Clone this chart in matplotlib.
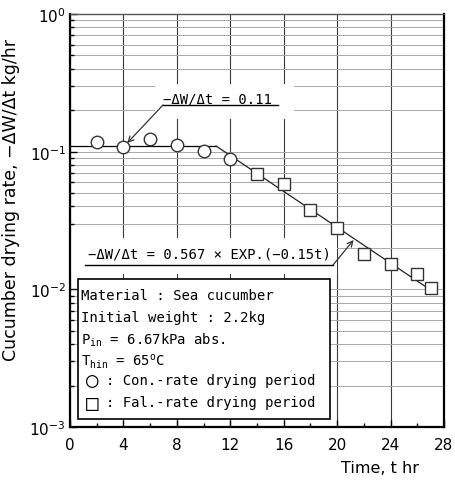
import numpy as np
import matplotlib.pyplot as plt
from matplotlib.patches import Rectangle
from matplotlib.ticker import LogLocator, MultipleLocator, NullFormatter

# Drying data (time in hr, rate in kg/hr)
t_con = [2, 4, 6, 8, 10, 12]
rate_con = [0.117, 0.108, 0.124, 0.112, 0.101, 0.0885]
t_fal = [14, 16, 18, 20, 22, 24, 26, 27]
rate_fal = [0.0689, 0.058, 0.0377, 0.0279, 0.0181, 0.0153, 0.0129, 0.0102]

# Fitted model
rate_const = 0.11
coef_a = 0.567
coef_b = -0.15
t_end = 27

mono = ['DejaVu Sans Mono', 'DejaVu Sans']

fig = plt.figure(figsize=(4.56, 4.81), dpi=100)
ax = fig.add_axes([70 / 456, 1 - 428 / 481, 374 / 456, 413 / 481])

# constant-rate then falling-rate line
t_knee = np.log(rate_const / coef_a) / coef_b
ax.plot([0, t_knee], [rate_const, rate_const], color='black', lw=0.9, zorder=4)
tt = np.linspace(t_knee, t_end, 100)
ax.plot(tt, coef_a * np.exp(coef_b * tt), color='#222222', lw=0.9, zorder=4)

ax.plot(t_con, rate_con, 'o', ms=9, mfc='white', mec='#333333', mew=1.0, zorder=5)
ax.plot(t_fal, rate_fal, 's', ms=8.5, mfc='white', mec='#333333', mew=1.0, zorder=5)

ax.set_yscale('log')
ax.set_xlim(0, 28)
ax.set_ylim(1e-3, 1)
ax.xaxis.set_major_locator(MultipleLocator(4))
ax.xaxis.set_minor_locator(MultipleLocator(2))
ax.yaxis.set_major_locator(LogLocator(base=10))
ax.yaxis.set_minor_locator(LogLocator(base=10, subs=np.arange(2, 10)))
ax.yaxis.set_minor_formatter(NullFormatter())

ax.grid(which='major', axis='x', color='#3a3a3a', lw=0.8, zorder=0)
ax.grid(which='both', axis='y', color='#a8a8a8', lw=0.7, zorder=0)
ax.set_axisbelow(True)

ax.tick_params(which='both', direction='in', top=False, right=False, labelsize=11)
ax.tick_params(which='major', length=5, width=1)
ax.tick_params(which='minor', length=3, width=1)
ax.tick_params(axis='x', pad=7)
ax.tick_params(axis='y', pad=3)
for s in ax.spines.values():
    s.set_linewidth(1.6)
ax.spines['top'].set_linewidth(1.0)
ax.spines['top'].set_color('#555555')

ax.set_ylabel('Cucumber drying rate, \u2212\u0394W/\u0394t kg/hr', fontsize=12.5)
ax.yaxis.set_label_coords(-0.134, 0.552)
ax.set_xlabel('Time, t hr', fontsize=11.5)
ax.xaxis.set_label_coords(0.83, -0.08)

# annotation for the constant-rate period
ax.add_patch(Rectangle((0.228, 0.745), 0.372, 0.085, transform=ax.transAxes,
                       facecolor='white', edgecolor='none', zorder=2))
ax.text(0.249, 0.796, '\u2212\u0394W/\u0394t = 0.11', transform=ax.transAxes,
        family=mono, fontsize=10, va='center', ha='left', zorder=6)
ax.plot([0.249, 0.556], [0.78, 0.78], transform=ax.transAxes,
        color='black', lw=1.0, zorder=6)
ax.annotate('', xy=(4, rate_con[1]), xytext=(0.249, 0.78),
            textcoords='axes fraction',
            arrowprops=dict(arrowstyle='->', color='#333333', lw=0.9,
                            shrinkA=0, shrinkB=4), zorder=6)

# annotation for the falling-rate period
ax.add_patch(Rectangle((0.0, 0.37), 0.714, 0.087, transform=ax.transAxes,
                       facecolor='white', edgecolor='none', zorder=2))
ax.text(0.048, 0.42, '\u2212\u0394W/\u0394t = 0.567 \u00d7 EXP.(\u22120.15t)',
        transform=ax.transAxes, family=mono, fontsize=10, va='center',
        ha='left', zorder=6)
ax.plot([0.04, 0.703], [0.392, 0.392], transform=ax.transAxes,
        color='black', lw=1.0, zorder=6)
t_arrow = 21.3
ax.annotate('', xy=(t_arrow, coef_a * np.exp(coef_b * t_arrow)),
            xytext=(0.703, 0.392), textcoords='axes fraction',
            arrowprops=dict(arrowstyle='->', color='#333333', lw=0.9,
                            shrinkA=0, shrinkB=1), zorder=6)

# condition box
ax.add_patch(Rectangle((0.0214, 0.019), 0.674, 0.339, transform=ax.transAxes,
                       facecolor='white', edgecolor='black', lw=1.2, zorder=3))
lines = [
    'Material : Sea cucumber',
    'Initial weight : 2.2kg',
    r'P$_\mathtt{in}$ = 6.67kPa abs.',
    r'T$_\mathtt{hin}$ = 65$^\mathtt{o}$C',
]
ys = [0.32, 0.267, 0.213, 0.16]
for s, y in zip(lines, ys):
    ax.text(0.03, y, s, transform=ax.transAxes, family=mono, fontsize=10,
            va='center', ha='left', zorder=6)
ax.text(0.042, 0.114, '\u25cb', transform=ax.transAxes, family=mono,
        fontsize=15, va='center', ha='left', zorder=6)
ax.text(0.042, 0.058, '\u25a1', transform=ax.transAxes, family=mono,
        fontsize=15, va='center', ha='left', zorder=6)
ax.text(0.095, 0.114, ': Con.-rate drying period', transform=ax.transAxes,
        family=mono, fontsize=10, va='center', ha='left', zorder=6)
ax.text(0.095, 0.06, ': Fal.-rate drying period', transform=ax.transAxes,
        family=mono, fontsize=10, va='center', ha='left', zorder=6)

fig.savefig('out.png', dpi=100)
